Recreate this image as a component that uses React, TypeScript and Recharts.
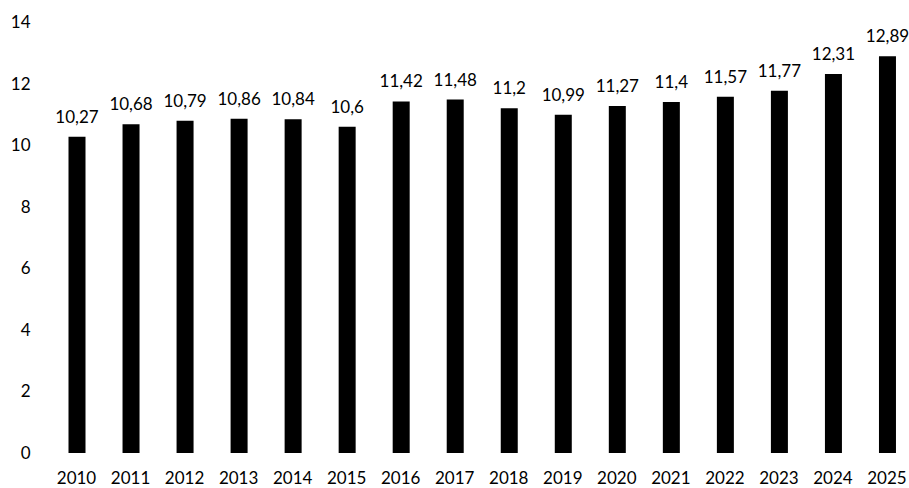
import React from "react";
import { BarChart, Bar, XAxis, YAxis, LabelList } from "recharts";

const years = ["2010","2011","2012","2013","2014","2015","2016","2017","2018","2019","2020","2021","2022","2023","2024","2025"];
const values = [10.27,10.68,10.79,10.86,10.84,10.6,11.42,11.48,11.2,10.99,11.27,11.4,11.57,11.77,12.31,12.89];
const yTicks = [0,2,4,6,8,10,12,14];

const data = years.map((y, i) => ({ year: y, value: values[i] }));

const font = { fontFamily: "Lato, 'Open Sans', sans-serif", fontSize: 17, fill: "#000" };

export default function App() {
  return (
    <div style={{ position: "absolute", left: 0, top: 0, width: 909, height: 488, overflow: "hidden", background: "#fff" }}>
      <BarChart width={914} height={488} data={data} margin={{ top: 22, right: 0, bottom: 0, left: 0 }} barSize={17}>
        <XAxis dataKey="year" axisLine={false} tickLine={false} tickSize={0} tickMargin={19} height={35} tick={font} interval={0} />
        <YAxis domain={[0, 14]} ticks={yTicks} axisLine={false} tickLine={false} tickSize={0} tickMargin={19} width={49.5} tick={font} interval={0} />
        <Bar dataKey="value" fill="#000" isAnimationActive={false}>
          <LabelList dataKey="value" position="top" offset={14} formatter={(v: any) => String(v).replace(".", ",")} style={font} />
        </Bar>
      </BarChart>
    </div>
  );
}
